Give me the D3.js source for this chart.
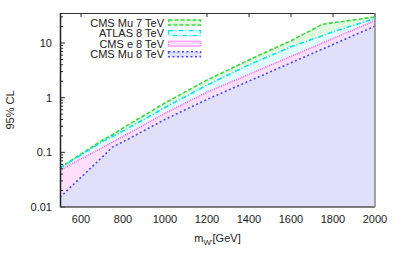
<!DOCTYPE html>
<html>
<head>
<meta charset="utf-8">
<script src="https://cdn.jsdelivr.net/npm/d3@7"></script>
<style>
  body { margin: 0; background: #fff; }
  text { font-family: "Liberation Sans", Arial, sans-serif; font-size: 11px; fill: #222; }
</style>
</head>
<body>
<svg class="chart"></svg>
<script>
const width = 395;
const height = 254;
const margin = {left: 60, right: 20, top: 13, bottom: 47};

// masses (GeV) and limits
const massGreen = [500, 600, 700, 750, 800, 1000, 1200, 1400, 1600, 1750, 2000];
const cmsMu7 = [0.052, 0.093, 0.165, 0.21, 0.28, 0.80, 2.1, 4.9, 11, 22, 30];
const massCyan = [500, 600, 700, 800, 1000, 1200, 1400, 1600, 1800, 2000];
const atlas8 = [0.052, 0.09, 0.155, 0.245, 0.66, 1.7, 4.0, 8.5, 16, 28];
const massPink = [500, 600, 700, 750, 800, 1000, 1200, 1400, 1600, 1800, 2000];
const cmsE8 = [0.047, 0.0757, 0.121, 0.154, 0.195, 0.52, 1.26, 2.68, 5.7, 12.1, 25.7];
const massBlue = [500, 600, 700, 750, 800, 1000, 1200, 1400, 1600, 1800, 2000];
const cmsMu8 = [0.015, 0.035, 0.081, 0.125, 0.156, 0.40, 0.93, 2.01, 4.35, 9.4, 20.4];

const xTicks = [600, 800, 1000, 1200, 1400, 1600, 1800, 2000];
const yTicks = [0.01, 0.1, 1, 10];
const yTickLabels = ['0.01', '0.1', '1', '10'];

const series = [
  {name: 'CMS Mu 7 TeV', x: massGreen, y: cmsMu7, stroke: '#3ad83a', fill: '#e0f8e0', dash: '4,2'},
  {name: 'ATLAS 8 TeV', x: massCyan, y: atlas8, stroke: '#10e0e8', fill: '#e0ffff', dash: '5,2,1,2'},
  {name: 'CMS e 8 TeV', x: massPink, y: cmsE8, stroke: '#ff5cff', fill: '#ffe0fc', dash: '1,1'},
  {name: 'CMS Mu 8 TeV', x: massBlue, y: cmsMu8, stroke: '#4848ff', fill: '#e0e0fa', dash: '2,2.5'}
];

const svg = d3.select('.chart').attr('width', width).attr('height', height);

const x = d3.scaleLinear().domain([500, 2000]).range([margin.left, width - margin.right]);
const y = d3.scaleLog().domain([0.01, 35.4]).range([height - margin.bottom, margin.top]);

const area = d3.area().x(d => x(d[0])).y0(y(0.01)).y1(d => y(d[1]));
const line = d3.line().x(d => x(d[0])).y(d => y(d[1]));

// filled areas, biggest first
series.forEach(s => {
  const pts = s.x.map((m, i) => [m, s.y[i]]);
  svg.append('path').datum(pts).attr('d', area).attr('fill', s.fill);
});
series.forEach(s => {
  const pts = s.x.map((m, i) => [m, s.y[i]]);
  svg.append('path').datum(pts).attr('d', line)
    .attr('fill', 'none').attr('stroke', s.stroke)
    .attr('stroke-width', 1.6).attr('stroke-dasharray', s.dash);
});

// ticks (inward, mirrored on top)
const x0 = margin.left, x1 = width - margin.right;
const y0 = height - margin.bottom, y1 = margin.top;
const tickG = svg.append('g').attr('stroke', '#222').attr('stroke-width', 1);
xTicks.forEach(t => {
  tickG.append('line').attr('x1', x(t)).attr('x2', x(t)).attr('y1', y1).attr('y2', y1 + 4);
});
const minor = [];
[0.01, 0.1, 1, 10].forEach(d => {
  for (let k = 2; k <= 9; k++) if (d * k <= 35.4) minor.push(d * k);
});
yTicks.forEach(t => {
  tickG.append('line').attr('x1', x0).attr('x2', x0 + 5).attr('y1', y(t)).attr('y2', y(t));
});
minor.forEach(t => {
  tickG.append('line').attr('x1', x0).attr('x2', x0 + 3).attr('y1', y(t)).attr('y2', y(t));
});

// border
svg.append('line').attr('x1', x0).attr('x2', x1).attr('y1', y1 + 0.5).attr('y2', y1 + 0.5).attr('stroke', '#333');
svg.append('line').attr('x1', x0 + 0.5).attr('x2', x0 + 0.5).attr('y1', y1).attr('y2', y0).attr('stroke', '#222').attr('stroke-width', 1.5);
svg.append('line').attr('x1', x0).attr('x2', x1).attr('y1', y0).attr('y2', y0).attr('stroke', '#555').attr('stroke-width', 1.5);
svg.append('line').attr('x1', x1).attr('x2', x1).attr('y1', y1).attr('y2', y0).attr('stroke', '#888').attr('stroke-width', 1.5);

// tick labels
svg.append('g').selectAll('text').data(xTicks).join('text')
  .attr('x', d => x(d)).attr('y', y0 + 16).attr('text-anchor', 'middle').text(d => d);
svg.append('g').selectAll('text').data(yTicks).join('text')
  .attr('x', x0 - 8).attr('y', d => y(d) + 4).attr('text-anchor', 'end')
  .text((d, i) => yTickLabels[i]);

// axis titles
const xt = svg.append('text').attr('x', (x0 + x1) / 2).attr('y', y0 + 35).attr('text-anchor', 'middle');
xt.append('tspan').text('m');
xt.append('tspan').attr('dy', 3).attr('font-size', '8px').text("W'");
xt.append('tspan').attr('dy', -3).text('[GeV]');
svg.append('text').attr('transform', `translate(14,${(y0 + y1) / 2}) rotate(-90)`)
  .attr('text-anchor', 'middle').text('95% CL');

// legend
const leg = svg.append('g');
leg.append('rect').attr('x', 86).attr('y', y1 + 1).attr('width', 118).attr('height', 48).attr('fill', '#fff');
series.forEach((s, i) => {
  const cy = 22.5 + i * 10.6;
  leg.append('text').attr('x', 164).attr('y', cy + 4).attr('text-anchor', 'end').text(s.name);
  leg.append('rect').attr('x', 168.5).attr('y', cy - 2.5).attr('width', 32).attr('height', 5)
    .attr('fill', s.fill).attr('stroke', s.stroke).attr('stroke-width', 1.4)
    .attr('stroke-dasharray', s.dash);
});
</script>
</body>
</html>
